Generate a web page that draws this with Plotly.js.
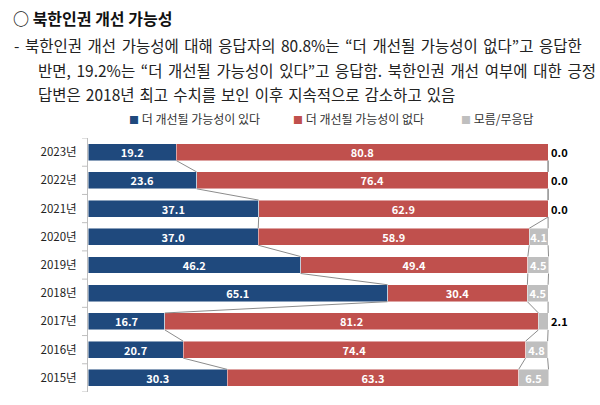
<!DOCTYPE html>
<html><head><meta charset="utf-8">
<script src="https://cdn.plot.ly/plotly-3.0.1.min.js"></script>
<style>html,body{margin:0;padding:0;background:#fff}</style>
</head><body>
<div id="chart" style="width:600px;height:405px"></div>
<script>
const categories = ['2023년','2022년','2021년','2020년','2019년','2018년','2017년','2016년','2015년'];
const positive = [19.2, 23.6, 37.1, 37.0, 46.2, 65.1, 16.7, 20.7, 30.3];
const negative = [80.8, 76.4, 62.9, 58.9, 49.4, 30.4, 81.2, 74.4, 63.3];
const unknown  = [0.0, 0.0, 0.0, 4.1, 4.5, 4.5, 2.1, 4.8, 6.5];
const seriesNames = ['더 개선될 가능성이 있다', '더 개선될 가능성이 없다', '모름/무응답'];
const titleText = '○ 북한인권 개선 가능성';
const bodyLines = [
  '- 북한인권 개선 가능성에 대해 응답자의 80.8%는 “더 개선될 가능성이 없다”고 응답한',
  '반면, 19.2%는 “더 개선될 가능성이 있다”고 응답함. 북한인권 개선 여부에 대한 긍정',
  '답변은 2018년 최고 수치를 보인 이후 지속적으로 감소하고 있음'
];

const colors = ['#1F497D', '#C0504D', '#BFBFBF'];
const FONT = '"Noto Sans CJK KR", "Noto Sans", sans-serif';
const W = 0.6;
const XMAX = 100.2;
const pos = categories.map((c, i) => i);

const L = 88, R = 51, T = 138, B = 13;
const plotW = 600 - L - R, plotH = 405 - T - B;
const px = v => (v - L) / plotW;
const py = v => 1 - (v - T) / plotH;

const fmt = v => v.toFixed(1);
const barTrace = (vals, k, textpos, textcolor) => ({
  type: 'bar', orientation: 'h', y: pos, x: vals, width: W,
  name: seriesNames[k],
  marker: {color: colors[k], line: {color: 'rgba(255,255,255,0.6)', width: 0.8}},
  text: vals.map(fmt), textposition: textpos, insidetextanchor: 'middle', constraintext: 'none',
  textfont: {family: FONT, size: 11, color: textcolor, weight: 'bold'},
  cliponaxis: false, hoverinfo: 'skip', showlegend: false
});

const grayPos = unknown.map(v => v < 3 ? 'outside' : 'inside');
const grayCol = unknown.map(v => v < 3 ? '#000000' : '#ffffff');

const traces = [
  barTrace(positive, 0, 'inside', '#ffffff'),
  barTrace(negative, 1, 'inside', '#ffffff'),
  barTrace(unknown, 2, grayPos, grayCol)
];

// series lines connecting stacked boundaries between adjacent bars
const cum1 = positive.slice();
const cum2 = positive.map((v, i) => v + negative[i]);
const cum3 = positive.map((v, i) => v + negative[i] + unknown[i]);
[cum1, cum2, cum3].forEach(cum => {
  const xs = [], ys = [];
  for (let i = 0; i < cum.length - 1; i++) {
    xs.push(cum[i], cum[i + 1], null);
    ys.push(pos[i] + W / 2, pos[i + 1] - W / 2, null);
  }
  traces.push({type: 'scatter', mode: 'lines', x: xs, y: ys,
    line: {color: '#8c8c8c', width: 1}, hoverinfo: 'skip', showlegend: false, cliponaxis: false});
});

const annotations = [];
annotations.push({xref: 'paper', yref: 'paper', x: px(11), y: py(18), xanchor: 'left', yanchor: 'middle',
  text: '<b>' + titleText + '</b>', showarrow: false, font: {family: FONT, size: 16, color: '#111'}});
const lineY = [45, 70, 94], lineX = [12, 36, 36], wsp = [2.1, 2.2, 1.6];
bodyLines.forEach((t, i) => annotations.push({xref: 'paper', yref: 'paper', x: px(lineX[i]), y: py(lineY[i]),
  xanchor: 'left', yanchor: 'middle', showarrow: false,
  text: '<span style="word-spacing:' + wsp[i] + 'px">' + t + '</span>',
  font: {family: FONT, size: 15.5, color: '#222'}}));
// legend
const legX = [127, 291, 459];
seriesNames.forEach((n, k) => annotations.push({xref: 'paper', yref: 'paper', x: px(legX[k]), y: py(119),
  xanchor: 'left', yanchor: 'middle', showarrow: false,
  text: '<span style="color:' + colors[k] + ';font-size:10px">■</span> ' + n, font: {family: FONT, size: 12, color: '#333'}}));

const layout = {
  width: 600, height: 405,
  margin: {l: L, r: R, t: T, b: B, pad: 0},
  paper_bgcolor: '#fff', plot_bgcolor: '#fff',
  barmode: 'stack', bargap: 0.4,
  showlegend: false,
  xaxis: {range: [0, XMAX], visible: false, fixedrange: true},
  yaxis: {range: [8.5, -0.5], tickvals: pos, ticktext: categories, showgrid: false, zeroline: false,
    showline: true, linecolor: '#bfbfbf', linewidth: 1, ticks: '', ticklen: 0,
    tickfont: {family: FONT, size: 11.5, color: '#222'}, ticklabelstandoff: 8},
  annotations: annotations,
  shapes: pos.concat([pos.length - 1]).map((p, i) => ({type: 'line', xref: 'paper', yref: 'y',
    x0: -6 / plotW, x1: 0, y0: i - 0.5, y1: i - 0.5, line: {color: '#bfbfbf', width: 1}})),
  font: {family: FONT}
};

Plotly.newPlot('chart', traces, layout, {staticPlot: true, displayModeBar: false});
</script>
</body></html>
